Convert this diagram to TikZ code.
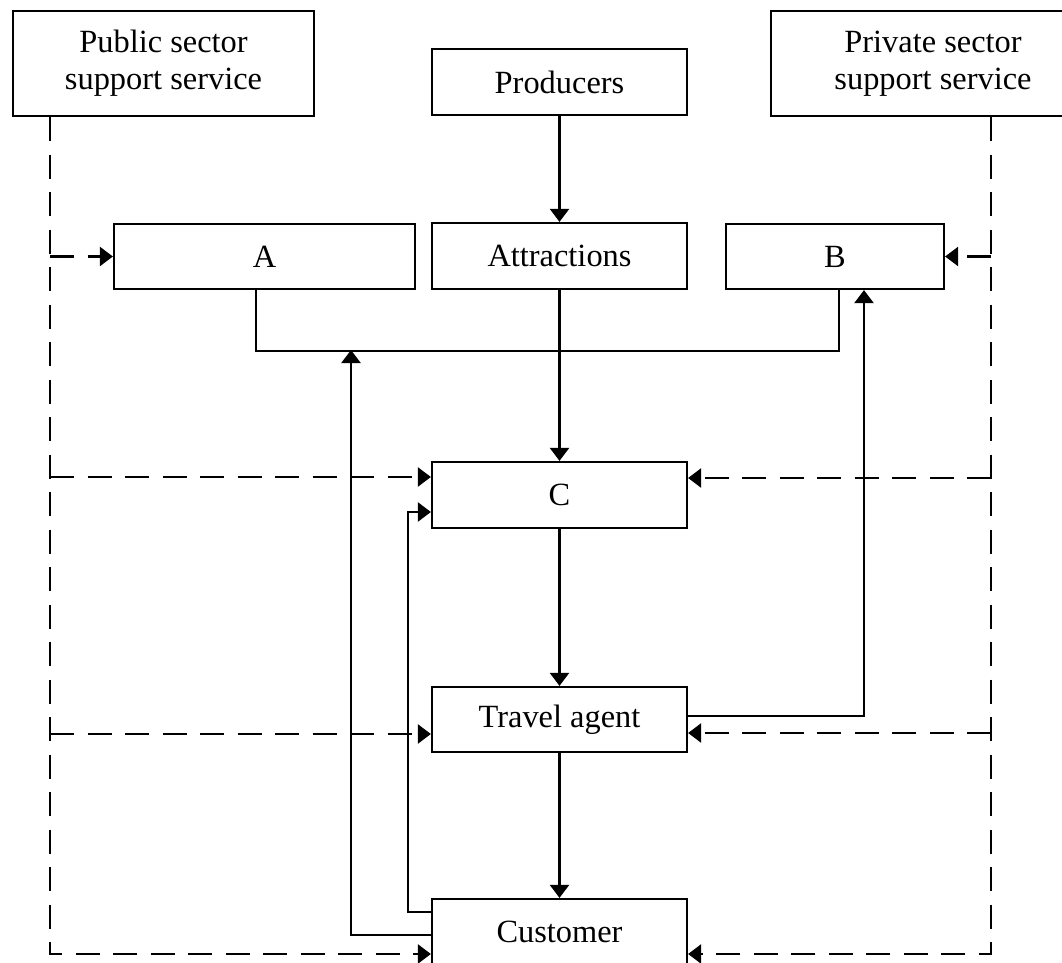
\documentclass[tikz,border=0pt]{standalone}
\usepackage{fontspec}
\setmainfont{Liberation Serif}
\usetikzlibrary{arrows.meta,calc}
\begin{document}
\begin{tikzpicture}[x=0.5pt,y=-0.5pt,
  box/.style={draw,line width=1.1pt,inner sep=0pt,align=center,font=\fontsize{16.2}{18.5}\selectfont},
  ln/.style={line width=1.1pt},
  dsh/.style={line width=1.1pt,dash pattern=on 12pt off 6.75pt},
  tip/.style={-{Triangle[length=6.5pt,width=9.5pt]}}]
\useasboundingbox (0,0) rectangle (1062,963);
\clip (0,0) rectangle (1062,963);

% boxes
\node[box,minimum width=150.5pt,minimum height=52.5pt] (pub) at (163.5,63.5) {Public sector\\support service};
\node[box,minimum width=127.5pt,minimum height=33pt] (prod) at (559.5,82) {Producers};
\node[box,minimum width=162pt,minimum height=52.5pt] (priv) at (933,63.5) {Private sector\\support service};
\node[box,minimum width=150.5pt,minimum height=32.5pt] (A) at (264.5,256.5) {A};
\node[box,minimum width=127.5pt,minimum height=33pt] (attr) at (559.5,256) {Attractions};
\node[box,minimum width=109pt,minimum height=32.5pt] (B) at (835,256.5) {B};
\node[box,minimum width=127.5pt,minimum height=33pt] (C) at (559.5,495) {C};
\node[box,minimum width=127.5pt,minimum height=32.5pt] (TA) at (559.5,719.5) {Travel agent};
\node[box,minimum width=127.5pt,minimum height=33pt] (cust) at (559.5,932) {Customer};

\coordinate (lx) at (50,0);
\coordinate (rx) at (991,0);
\coordinate (ab) at (351,350);

% dashed support-service trunks
\draw[dsh,tip] (pub.south -| lx) |- ($(cust.west)+(0,22)$);
\draw[dsh,tip] (priv.south -| rx) |- ($(cust.east)+(0,22)$);
% dashed branches
\draw[dsh,tip] (A.west -| lx) -- (A.west);
\draw[dsh,tip] (B.east -| rx) -- (B.east);
\draw[dsh,tip] ($(C.west -| lx)+(0,-18)$) -- ($(C.west)+(0,-18)$);
\draw[dsh,tip] ($(C.east -| rx)+(0,-17)$) -- ($(C.east)+(0,-17)$);
\draw[dsh,tip] ($(TA.west -| lx)+(0,14.5)$) -- ($(TA.west)+(0,14.5)$);
\draw[dsh,tip] ($(TA.east -| rx)+(0,13.5)$) -- ($(TA.east)+(0,13.5)$);

% main chain
\draw[ln,tip] (prod) -- (attr);
\draw[ln,tip] (attr) -- (C);
\draw[ln,tip] (C) -- (TA);
\draw[ln,tip] (TA) -- (cust);

% A -- B link
\draw[ln] ($(A.south)+(-8.5,0)$) |- ($(B.south)+(4,61)$) -- ($(B.south)+(4,0)$);

% feedback lines
\draw[ln,tip] ($(cust.west)+(0,3)$) -| (ab);
\draw[ln,tip] ($(cust.west)+(0,-20)$) -| ($(C.west)+(-23,17)$) -- ($(C.west)+(0,17)$);
\draw[ln,tip] ($(TA.east)+(0,-3.5)$) -| ($(B.south)+(29,0)$);
\end{tikzpicture}
\end{document}
